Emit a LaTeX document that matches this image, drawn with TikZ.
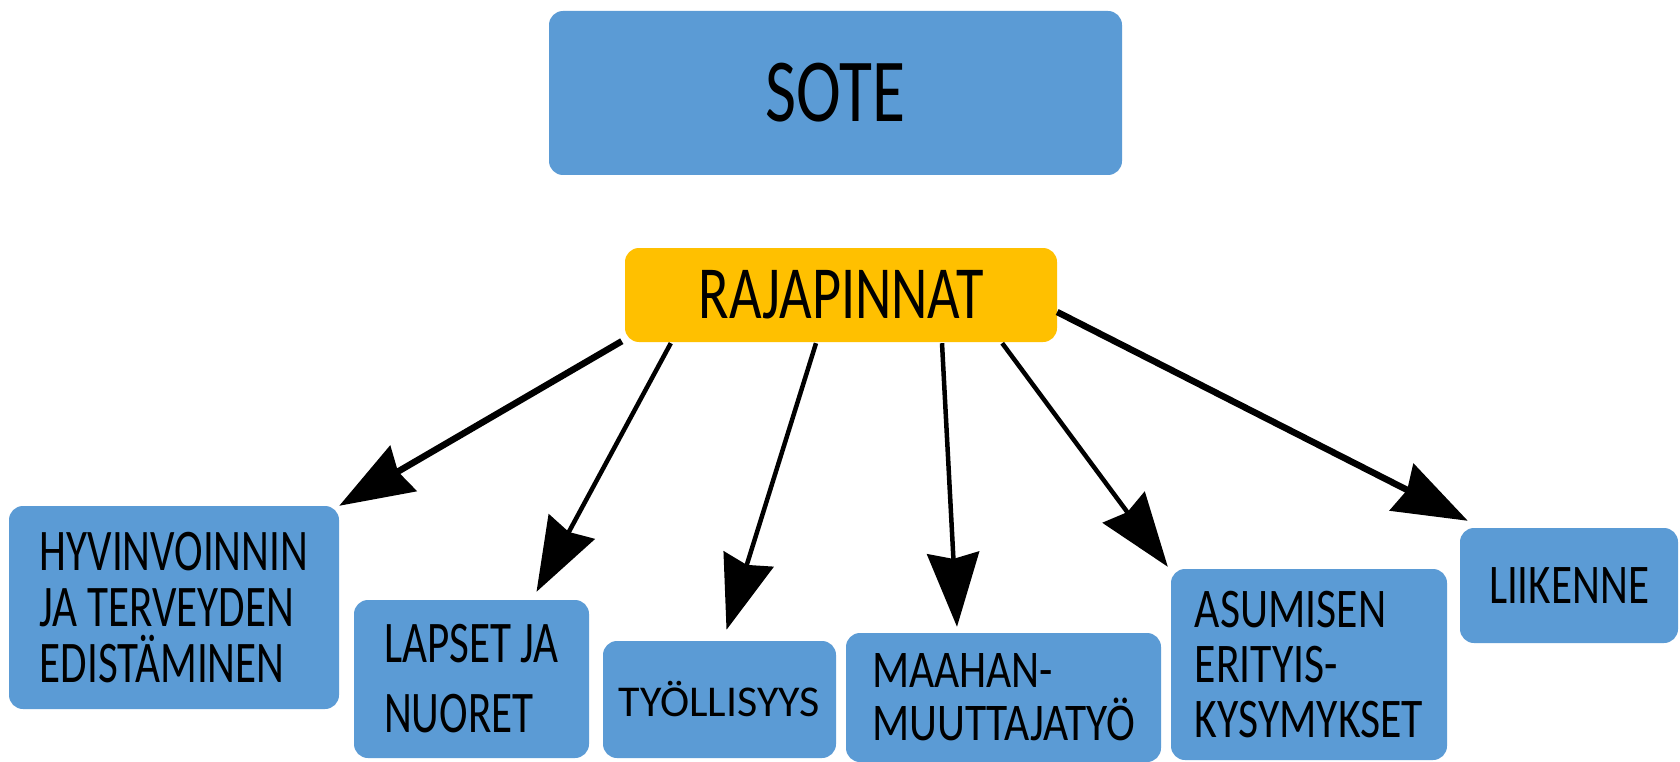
\documentclass[tikz,border=0pt]{standalone}
\usepackage{fontspec}
\setmainfont{Carlito}
\newfontfamily\cfA[FakeStretch=0.75]{Carlito}
\newfontfamily\cfB[FakeStretch=0.73]{Carlito}
\newfontfamily\cfC[FakeStretch=0.82]{Carlito}
\newfontfamily\cfD[FakeStretch=0.78]{Carlito}
\newfontfamily\cfE[FakeStretch=0.77]{Carlito}
\usetikzlibrary{arrows.meta}
\definecolor{boxblue}{HTML}{5B9BD5}
\definecolor{boxgold}{HTML}{FFC000}
\begin{document}
\begin{tikzpicture}[x=1pt,y=-1pt,
  box/.style={rectangle, rounded corners=14pt, fill=boxblue, inner sep=0pt, align=left, text=black},
  gold/.style={box, fill=boxgold},
  arr/.style={-{Stealth[length=74pt,width=52pt,inset=6pt]}, line width=4.5pt, black},
  thickarr/.style={arr, line width=6.5pt}]
\useasboundingbox[fill=white] (0,0) rectangle (1680,762);

\node[box, minimum width=573pt, minimum height=164pt, font=\cfA\fontsize{90}{90}\selectfont] (sote) at (835.5,93) {SOTE};
\node[gold, minimum width=432pt, minimum height=94pt, font=\cfA\fontsize{75}{75}\selectfont] (raj) at (841,295) {RAJAPINNAT};

\node[box, minimum width=330pt, minimum height=203pt, font=\cfB\fontsize{59}{56}\selectfont] (hyv) at (174,607.5)
  {HYVINVOINNIN\\JA TERVEYDEN\\EDISTÄMINEN};
\node[box, minimum width=235pt, minimum height=158pt, font=\cfB\fontsize{59}{70}\selectfont] (lap) at (471.5,679)
  {LAPSET JA\\NUORET};
\node[box, minimum width=233pt, minimum height=117pt, font=\fontsize{44}{44}\selectfont] (tyo) at (719.5,699.5)
  {TYÖLLISYYS};
\node[box, minimum width=315pt, minimum height=129pt, font=\cfC\fontsize{53}{53}\selectfont] (maa) at (1003.5,697.5)
  {MAAHAN-\\MUUTTAJATYÖ};
\node[box, minimum width=276pt, minimum height=191pt, font=\cfD\fontsize{56}{55}\selectfont] (asu) at (1309,664.5)
  {ASUMISEN\\ERITYIS-\\KYSYMYKSET};
\node[box, minimum width=218pt, minimum height=115pt, font=\cfE\fontsize{56}{56}\selectfont] (lii) at (1569,585.5)
  {LIIKENNE};

\draw[thickarr] ([xshift=-3pt,yshift=1pt]raj.south west) -- (hyv.north east);
\draw[arr] ([xshift=46pt,yshift=-1pt]raj.south west) -- ([xshift=65pt,yshift=8pt]lap.north);
\draw[arr] ([xshift=-25pt,yshift=-1pt]raj.south) -- ([xshift=7pt,yshift=11pt]tyo.north);
\draw[arr] ([xshift=101pt,yshift=-1pt]raj.south) -- ([xshift=-46.5pt,yshift=6pt]maa.north);
\draw[arr] ([xshift=-55pt,yshift=-1pt]raj.south east) -- ([xshift=-3pt,yshift=2pt]asu.north west);
\draw[thickarr] ([yshift=-17pt]raj.east) -- ([xshift=8pt,yshift=7pt]lii.north west);
\end{tikzpicture}
\end{document}
